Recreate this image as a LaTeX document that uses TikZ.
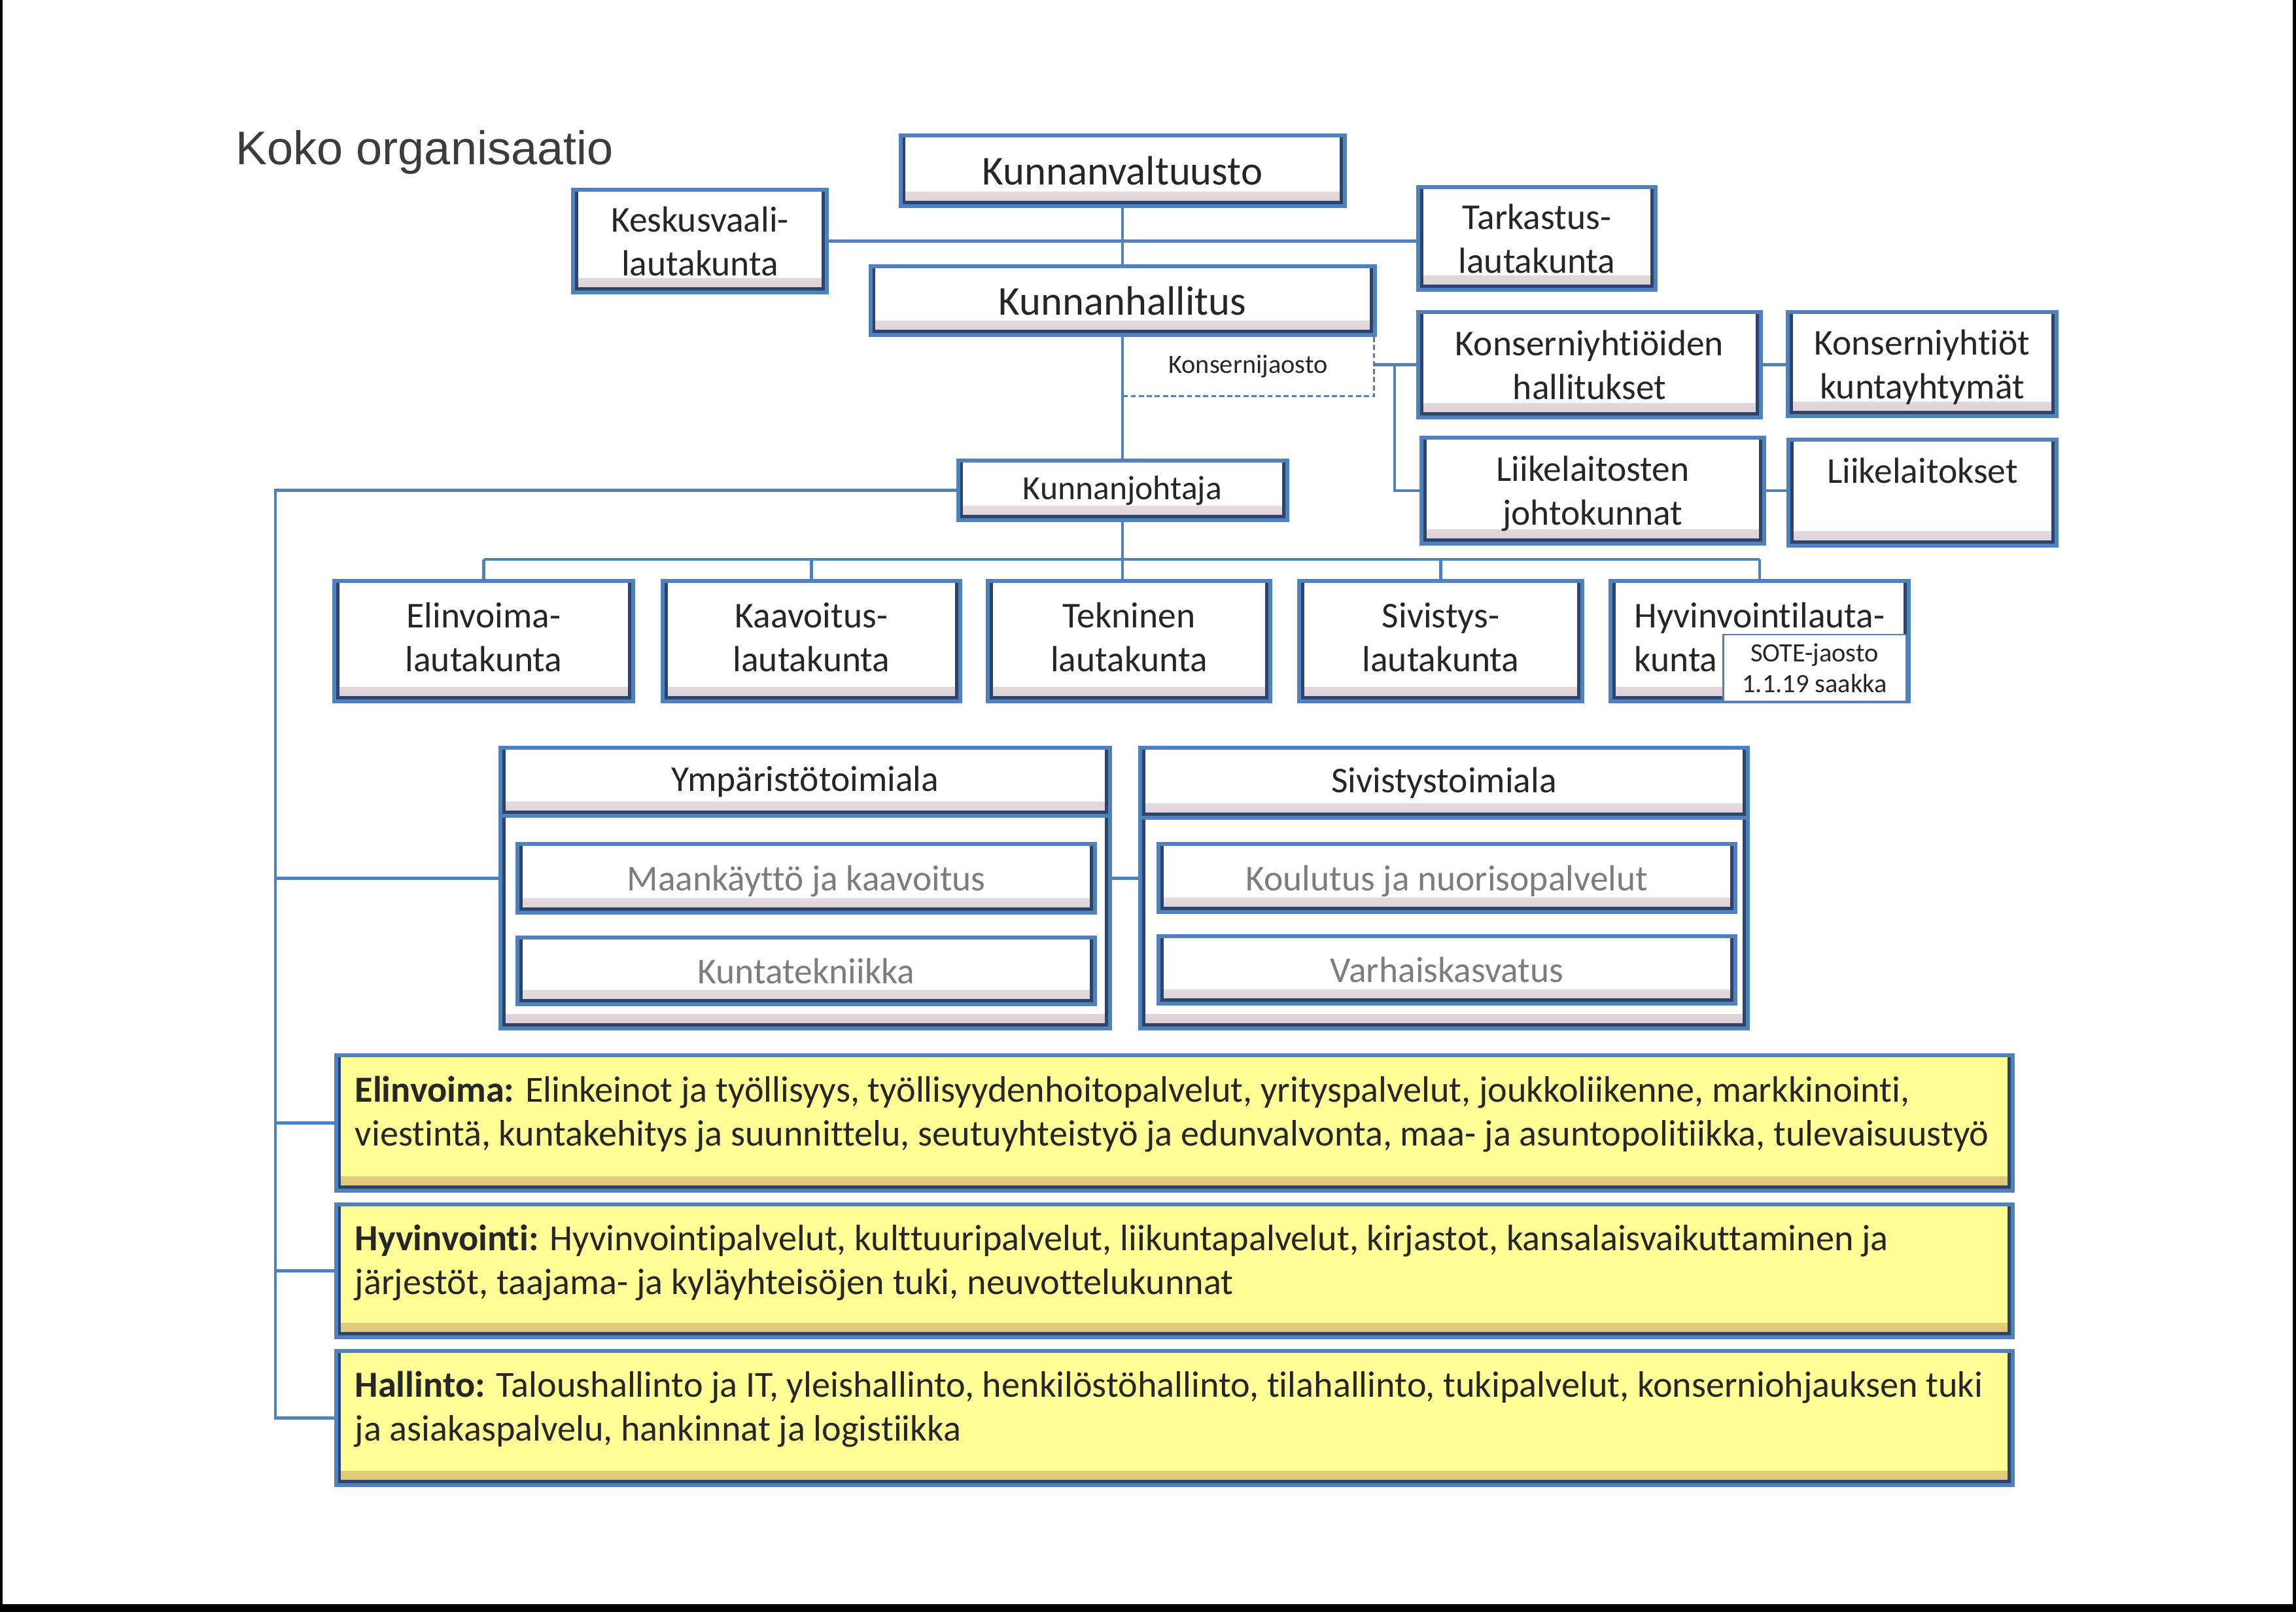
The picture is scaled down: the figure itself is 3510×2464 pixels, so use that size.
\documentclass[tikz,border=0pt]{standalone}
\usepackage{fontspec}
\setmainfont{Carlito}[Ligatures={NoCommon}]
\newfontfamily\titlefont{Liberation Sans}
\usetikzlibrary{backgrounds}
\definecolor{bl}{RGB}{79,129,189}
\definecolor{nv}{RGB}{44,68,106}
\definecolor{bevc}{RGB}{222,208,214}
\definecolor{yl}{RGB}{255,253,150}
\definecolor{ybev}{RGB}{220,200,118}
\definecolor{tx}{RGB}{38,38,38}
\definecolor{gtx}{RGB}{125,125,125}
\definecolor{titc}{RGB}{60,60,60}
\newcommand{\bev}[2]{%
  \shade[top color=#1, bottom color=#2] (path picture bounding box.south west) rectangle ([yshift=6pt]path picture bounding box.south east);%
  \draw[nv, line width=4.4pt] (path picture bounding box.north west) -- (path picture bounding box.south west) -- (path picture bounding box.south east) -- (path picture bounding box.north east);%
}
\tikzset{
  bx/.style={rectangle, draw=bl, line width=1.7pt, inner sep=0pt, text=tx, align=center, font=\fontsize{15.8}{19.1}\selectfont},
  obox/.style={bx, fill=white, path picture={\bev{white}{bevc}}},
  ybox/.style={bx, fill=yl, path picture={\bev{yl}{ybev}}},
  gbox/.style={obox, text=gtx, text depth=0pt},
  bigf/.style={font=\fontsize{17.85}{21.6}\selectfont},
  smallf/.style={font=\fontsize{11.5}{13.4}\selectfont},
  lau/.style={obox, minimum height=18.4mm, text depth=3.5pt},
  cn/.style={draw=bl, line width=1.4pt},
  dsh/.style={draw=bl, line width=0.8pt, dash pattern=on 2.2pt off 1.3pt},
  ytext/.style={anchor=base west, inner sep=0pt, align=left, text=tx, font=\fontsize{16.0}{19.06}\selectfont},
}
\begin{document}
\begin{tikzpicture}[x=0.1mm, y=-0.1mm]
\useasboundingbox (0,0) rectangle (3510,2464);
% scan edges
\fill[black] (0,0) rectangle (4,2464);
\fill[black] (3505,0) rectangle (3510,2464);
\fill[black] (0,2452) rectangle (3510,2464);

\node[anchor=base west, inner sep=0pt, text=titc, font=\titlefont\fontsize{20.5}{24}\selectfont] (title) at (360,252) {Koko organisaatio};

% top level
\node[obox, bigf, minimum width=67.9mm, minimum height=10.8mm] (valt) at (1716,261) {Kunnanvaltuusto};
\node[obox, minimum width=38.8mm, minimum height=15.7mm, text depth=-2pt] (kesk) at (1070,368.5) {Keskusvaali-\\lautakunta};
\node[obox, minimum width=36.3mm, minimum height=15.7mm, text depth=-3.5pt] (tark) at (2349.5,364.5) {Tarkastus-\\lautakunta};
\node[obox, bigf, minimum width=77.1mm, minimum height=10.5mm] (hall) at (1716,459.5) {Kunnanhallitus};
\node[smallf, text=tx, inner sep=0pt, minimum width=38.4mm, minimum height=9mm] (kons) at (1908,560) {Konsernijaosto};

\node[obox, minimum width=52.4mm, minimum height=16.1mm] (kyh) at (2430,557.5) {Konserniyhtiöiden\\hallitukset};
\node[obox, minimum width=41.1mm, minimum height=15.9mm, text depth=0pt] (ky) at (2938.5,556.5) {Konserniyhtiöt\\kuntayhtymät};
\node[obox, minimum width=52.4mm, minimum height=16.2mm, text depth=0pt] (llj) at (2435,750) {Liikelaitosten\\johtokunnat};
\node[obox, minimum width=41.0mm, minimum height=16.2mm, text depth=0pt] (ll) at (2939,753) {Liikelaitokset\\\mbox{}};

\node[obox, font=\fontsize{14.7}{17.8}\selectfont, minimum width=50.3mm, minimum height=9.1mm] (joht) at (1716,749.5) {Kunnanjohtaja};

% lautakunnat
\node[lau, minimum width=45.7mm] (el) at (739.5,980) {Elinvoima-\\lautakunta};
\node[lau, minimum width=45.5mm] (ka) at (1240.5,980) {Kaavoitus-\\lautakunta};
\node[lau, minimum width=43.2mm] (te) at (1726,980) {Tekninen\\lautakunta};
\node[lau, minimum width=43.3mm] (si) at (2202.5,980) {Sivistys-\\lautakunta};
\node[lau, align=left, minimum width=45.6mm] (hy) at (2690,980) {Hyvinvointilauta-\\kunta};
\node[draw=bl, line width=0.85pt, fill=white, smallf, text=tx, align=center, inner sep=0pt, minimum width=28mm, minimum height=10.2mm] (sote) at (2774,1021) {SOTE-jaosto\\1.1.19 saakka};

% toimialat
\node[obox, minimum width=93.2mm, minimum height=42.9mm] (yg) at (1231,1357.5) {};
\node[obox, minimum width=93.2mm, minimum height=10.4mm] (ygh) at (1231,1195) {Ympäristötoimiala};
\node[gbox, minimum width=88.3mm, minimum height=10.5mm] (mk) at (1232.5,1342.5) {Maankäyttö ja kaavoitus};
\node[gbox, minimum width=88.3mm, minimum height=10.2mm] (kt) at (1232.5,1484) {Kuntatekniikka};

\node[obox, minimum width=92.9mm, minimum height=42.9mm] (sg) at (2207.5,1357.5) {};
\node[obox, minimum width=92.9mm, minimum height=10.7mm] (sgh) at (2207.5,1196.5) {Sivistystoimiala};
\node[gbox, minimum width=88.2mm, minimum height=10.4mm] (ko) at (2212,1342) {Koulutus ja nuorisopalvelut};
\node[gbox, minimum width=88.2mm, minimum height=10.3mm] (va) at (2212,1482.5) {Varhaiskasvatus};

% keltaiset
\node[ybox, minimum width=256.3mm, minimum height=20.7mm] (yEl) at (1795,1716.5) {};
\node[ybox, minimum width=256.3mm, minimum height=20.3mm] (yHy) at (1795,1942.5) {};
\node[ybox, minimum width=256.3mm, minimum height=20.5mm] (yHa) at (1795,2167.5) {};
\node[ytext] (tEl) at (542,1751) {\textbf{Elinvoima:} Elinkeinot ja työllisyys, työllisyydenhoitopalvelut, yrityspalvelut, joukkoliikenne, markkinointi,\\viestintä, kuntakehitys ja suunnittelu, seutuyhteistyö ja edunvalvonta, maa- ja asuntopolitiikka, tulevaisuustyö};
\node[ytext] (tHy) at (542,1978) {\textbf{Hyvinvointi:} Hyvinvointipalvelut, kulttuuripalvelut, liikuntapalvelut, kirjastot, kansalaisvaikuttaminen ja\\järjestöt, taajama- ja kyläyhteisöjen tuki, neuvottelukunnat};
\node[ytext] (tHa) at (542,2202) {\textbf{Hallinto:} Taloushallinto ja IT, yleishallinto, henkilöstöhallinto, tilahallinto, tukipalvelut, konserniohjauksen tuki\\ja asiakaspalvelu, hankinnat ja logistiikka};

% connectors
\coordinate (bus) at (1716,855);
\coordinate (ls) at (421,755);
\coordinate (kj) at (2132,558);
\begin{scope}[on background layer]
\draw[cn] (kesk.east) -- (kesk.east -| tark.west);
\draw[cn] (valt.south) -- (hall.north);
\draw[cn] (hall.south) -- (joht.north);
\draw[cn] (kons.east |- kyh.west) -- (kyh.west);
\draw[cn] (kj |- kyh.west) |- (llj.west);
\draw[cn] (kyh.east) -- (kyh.east -| ky.west);
\draw[cn] (llj.east) -- (llj.east -| ll.west);
\draw[cn] (joht.south) -- (joht.south |- te.north);
\draw[cn] (el.north |- bus) -- (hy.north |- bus);
\foreach \n in {el,ka,si,hy} \draw[cn] (\n.north |- bus) -- (\n.north);
\draw[cn] (joht.west) -- (joht.west -| ls) -- (ls |- yHa.west) -- (yHa.west);
\draw[cn] (ls |- mk) -- (yg.west |- mk);
\draw[cn] (ls |- yEl.west) -- (yEl.west);
\draw[cn] (ls |- yHy.west) -- (yHy.west);
\draw[cn] (yg.east |- mk) -- (sg.west |- mk);
\end{scope}
\draw[dsh] (hall.south -| kons.east) -- (kons.south east) -- (kons.south west);
\end{tikzpicture}
\end{document}
